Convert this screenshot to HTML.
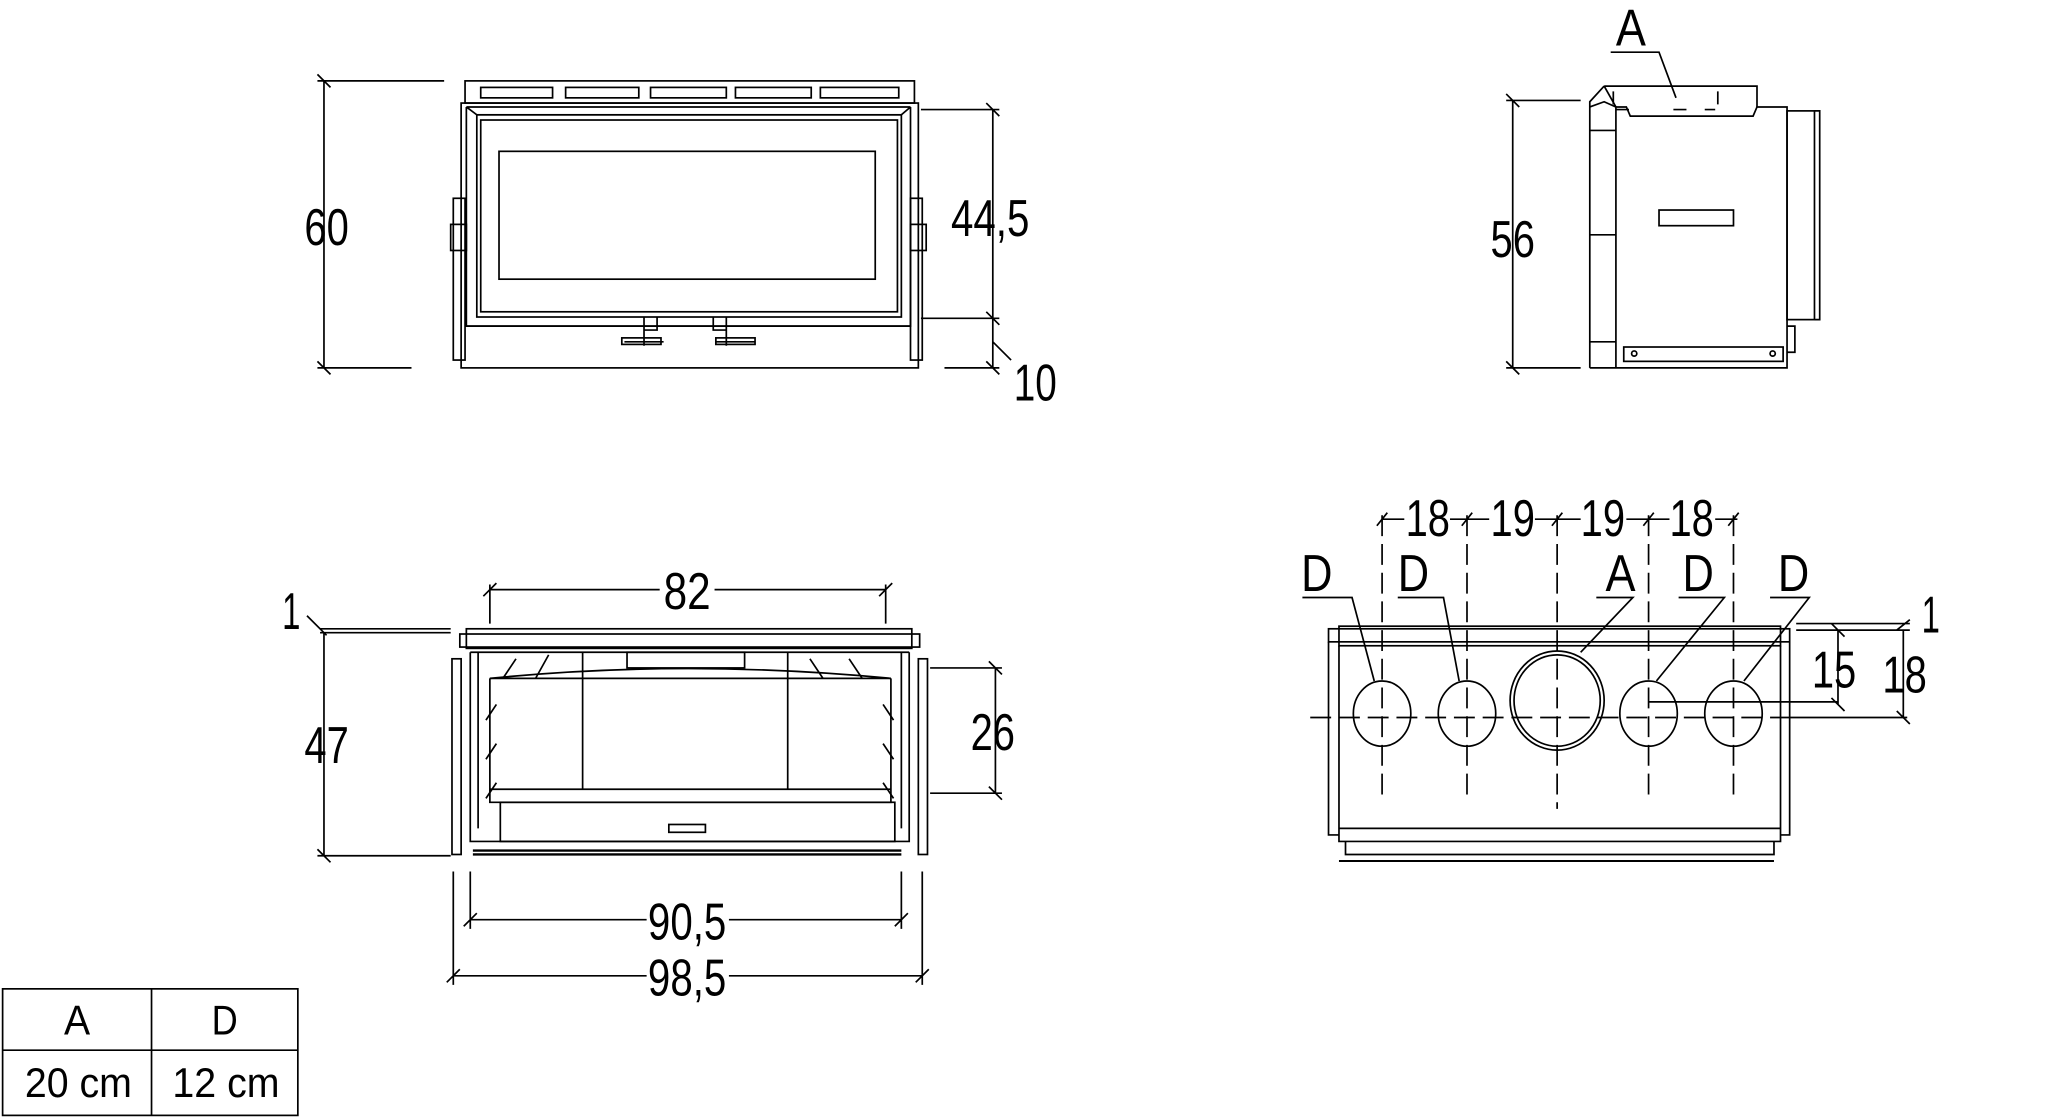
<!DOCTYPE html>
<html><head><meta charset="utf-8"><style>
html,body{margin:0;padding:0;background:#fff}
svg{display:block}
text{font-family:"Liberation Sans",sans-serif;fill:#000}
</style></head><body>
<svg width="2047" height="1118" viewBox="0 0 1567 857" preserveAspectRatio="none" xmlns="http://www.w3.org/2000/svg">
<g fill="none" stroke="#000" stroke-width="1.3">
<!-- ===== Front view (top-left) ===== -->
<rect x="356" y="62" width="344" height="17"/>
<rect x="368" y="67" width="55" height="8"/><rect x="433" y="67" width="56" height="8"/><rect x="498" y="67" width="58" height="8"/><rect x="563" y="67" width="58" height="8"/><rect x="628" y="67" width="60" height="8"/>
<rect x="353" y="79" width="350" height="203"/>
<path d="M357 82 L697 82 M357 82 L365 88 L690 88 L697 82 M357 82 L357 250 L697 250 L697 82"/>
<rect x="365" y="88" width="325" height="155"/>
<rect x="368" y="92" width="319" height="147"/>
<rect x="382" y="116" width="288" height="98"/>
<line x1="357" y1="250" x2="697" y2="250"/>
<rect x="347" y="152" width="9" height="124"/><rect x="345" y="172" width="12" height="20"/>
<rect x="697" y="152" width="9" height="124"/><rect x="697" y="172" width="12" height="20"/>
<path d="M493 243 v10 h10 v-10 M478 262 h30 M493 253 v12 M546 243 v10 h10 v-10 M548 262 h30 M556 253 v12"/>
<rect x="476" y="259" width="30" height="5"/><rect x="548" y="259" width="30" height="5"/>
<path d="M248 62 V282 M243 62 H340 M243 282 H315 M243 57 l10 10 M243 277 l10 10"/>
<path d="M760 84 V282 M705 84 H765 M705 244 H765 M723 282 H765 M755 79 l10 10 M755 239 l10 10 M755 277 l10 10 M760 262 l14 14"/>

<!-- ===== Side view (top-right) ===== -->
<path d="M1228 66 H1345 V82"/>
<path d="M1228 66 L1217 78 L1217 282 M1228 66 L1237 82 L1237 282"/>
<path d="M1217 82 L1228 78 L1237 82 M1217 100 H1237 M1217 180 H1237 M1217 262 H1237"/>
<path d="M1237 82 H1245 L1248 89 H1342 L1345 82 H1368 V282 H1217"/>
<path d="M1235 70 v14 h15 M1281 84 h15 M1315 70 v14 h-10" stroke-dasharray="10 6"/>
<rect x="1368" y="85" width="21" height="160"/><path d="M1389 85 h4 v160 h-4"/>
<rect x="1270" y="161" width="57" height="12"/>
<rect x="1243" y="266" width="122" height="11"/>
<circle cx="1251" cy="271" r="2"/><circle cx="1357" cy="271" r="2"/>
<path d="M1368 250 h6 v20 h-6"/>
<path d="M1233 40 H1270 L1283 75"/>
<path d="M1158 77 V282 M1153 77 H1210 M1153 282 H1210 M1153 72 l10 10 M1153 277 l10 10"/>

<!-- ===== Top view (bottom-left) ===== -->
<rect x="357" y="482" width="341" height="15"/>
<rect x="352" y="486" width="352" height="10"/>
<path d="M360 500 H696 M360 500 V645 H696 V500"/>
<path d="M366 500 V635 M690 500 V635 M375 520 H682 M375 520 V615 H682 V520"/>
<path d="M375 520 Q525 505 682 520"/>
<path d="M446 500 V605 M603 500 V605 M375 605 H682"/>
<rect x="480" y="500" width="90" height="12"/>
<path d="M380 540 L372 552 M380 570 L372 582 M380 600 L372 612 M676 540 L684 552 M676 570 L684 582 M676 600 L684 612 M395 505 L385 520 M420 502 L410 520 M620 505 L630 520 M650 505 L660 520"/>
<rect x="383" y="615" width="302" height="30"/>
<rect x="512" y="632" width="28" height="6"/>
<path d="M362 655 H690 M362 652 H690" stroke-width="1.8"/>
<rect x="346" y="505" width="7" height="150"/><rect x="703" y="505" width="7" height="150"/>
<path d="M375 452 H505 M547 452 H678 M375 448 V478 M678 448 V478 M370 457 l10 -10 M673 457 l10 -10"/>
<path d="M245 482 H345 M245 485 H345 M248 485 V656 M243 656 H345 M235 472 l15 15 M243 651 l10 10"/>
<path d="M762 512 V608 M712 512 H767 M712 608 H767 M757 507 l10 10 M757 603 l10 10"/>
<path d="M360 705 H495 M558 705 H690 M360 668 V712 M690 668 V712 M355 710 l10 -10 M685 710 l10 -10"/>
<path d="M347 748 H495 M558 748 H706 M347 668 V755 M706 668 V755 M342 753 l10 -10 M701 753 l10 -10"/>

<!-- ===== Back view (bottom-right) ===== -->
<rect x="1017" y="482" width="353" height="10"/>
<rect x="1025" y="480" width="338" height="15"/>
<path d="M1025 495 V645 H1363 V495"/>
<path d="M1017 492 V640 H1025 M1370 492 V640 H1363"/>
<path d="M1025 635 H1363 M1030 645 V655 H1358 V645"/>
<path d="M1025 660 H1358" stroke-width="1.6"/>
<ellipse cx="1058" cy="547" rx="22" ry="25"/><ellipse cx="1123" cy="547" rx="22" ry="25"/>
<ellipse cx="1262" cy="547" rx="22" ry="25"/><ellipse cx="1327" cy="547" rx="22" ry="25"/>
<ellipse cx="1192" cy="537" rx="36" ry="38"/><ellipse cx="1192" cy="537" rx="33" ry="35"/>
<g stroke-dasharray="16 6">
<path d="M1058 395 V610 M1123 395 V610 M1192 395 V620 M1262 395 V610 M1327 395 V610"/>
<path d="M1003 550 H1370"/>
</g>
<path d="M1370 550 H1460 M1262 538 H1407"/>
<path d="M1058 398 H1075 M1110 398 H1140 M1175 398 H1210 M1245 398 H1278 M1313 398 H1330 M1054 403 l8 -10 M1119 403 l8 -10 M1188 403 l8 -10 M1258 403 l8 -10 M1323 403 l8 -10"/>
<path d="M997 458 H1035 L1052 522 M1070 458 H1105 L1117 522 M1222 458 H1250 L1210 500 M1285 458 H1320 L1268 522 M1355 458 H1385 L1335 522"/>
<path d="M1375 478 H1462 M1375 483 H1462 M1407 483 V540 M1457 483 V550 M1452 483 l10 -8 M1402 478 l10 10 M1402 535 l10 10 M1452 545 l10 10"/>

<rect x="2" y="758" width="226" height="97"/>
<path d="M116 758 V855 M2 805 H228"/>
</g>

<g font-size="40">
<text x="233" y="188" textLength="34" lengthAdjust="spacingAndGlyphs">60</text>
<text x="728" y="181" textLength="60" lengthAdjust="spacingAndGlyphs">44,5</text>
<text x="776" y="307" textLength="33" lengthAdjust="spacingAndGlyphs">10</text>
<text x="1141" y="197" textLength="34" lengthAdjust="spacingAndGlyphs">56</text>
<text x="1237" y="35" textLength="23" lengthAdjust="spacingAndGlyphs">A</text>
<text x="508" y="467" textLength="36" lengthAdjust="spacingAndGlyphs">82</text>
<text x="216" y="482" textLength="14" lengthAdjust="spacingAndGlyphs">1</text>
<text x="233" y="585" textLength="34" lengthAdjust="spacingAndGlyphs">47</text>
<text x="743" y="575" textLength="34" lengthAdjust="spacingAndGlyphs">26</text>
<text x="496" y="720" textLength="60" lengthAdjust="spacingAndGlyphs">90,5</text>
<text x="496" y="763" textLength="60" lengthAdjust="spacingAndGlyphs">98,5</text>
<text x="1076" y="411" textLength="34" lengthAdjust="spacingAndGlyphs">18</text>
<text x="1141" y="411" textLength="34" lengthAdjust="spacingAndGlyphs">19</text>
<text x="1210" y="411" textLength="34" lengthAdjust="spacingAndGlyphs">19</text>
<text x="1278" y="411" textLength="34" lengthAdjust="spacingAndGlyphs">18</text>
<text x="996" y="453" textLength="24" lengthAdjust="spacingAndGlyphs">D</text>
<text x="1070" y="453" textLength="24" lengthAdjust="spacingAndGlyphs">D</text>
<text x="1229" y="453" textLength="23" lengthAdjust="spacingAndGlyphs">A</text>
<text x="1288" y="453" textLength="24" lengthAdjust="spacingAndGlyphs">D</text>
<text x="1361" y="453" textLength="24" lengthAdjust="spacingAndGlyphs">D</text>
<text x="1471" y="485" textLength="14" lengthAdjust="spacingAndGlyphs">1</text>
<text x="1387" y="527" textLength="34" lengthAdjust="spacingAndGlyphs">15</text>
<text x="1441" y="531" textLength="34" lengthAdjust="spacingAndGlyphs">18</text>
</g>
<g font-size="32">
<text x="49" y="793" textLength="20" lengthAdjust="spacingAndGlyphs">A</text>
<text x="162" y="793" textLength="20" lengthAdjust="spacingAndGlyphs">D</text>
<text x="19" y="841" textLength="82" lengthAdjust="spacingAndGlyphs">20 cm</text>
<text x="132" y="841" textLength="82" lengthAdjust="spacingAndGlyphs">12 cm</text>
</g>
</svg>
</body></html>
